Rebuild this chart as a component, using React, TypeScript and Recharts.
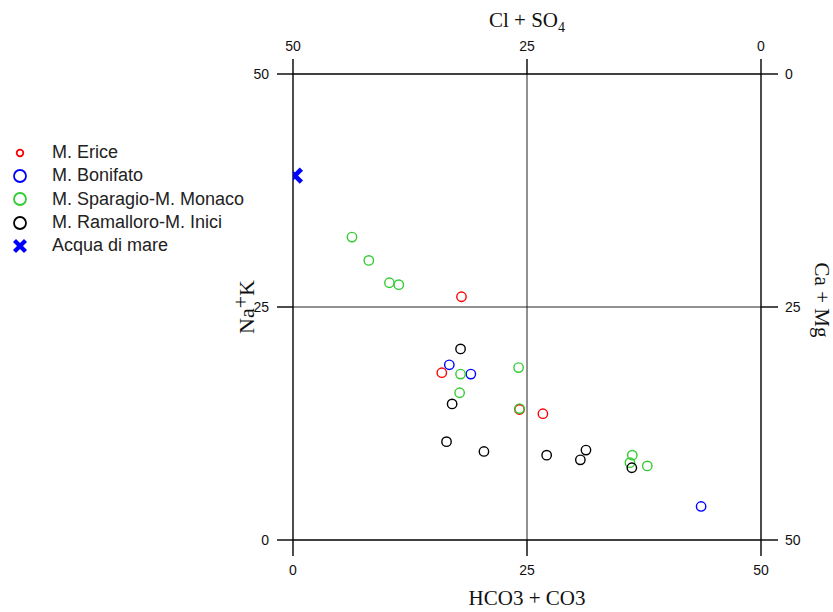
import React from "react";
import { ScatterChart, Scatter, XAxis, YAxis, ReferenceLine, Label } from "recharts";

// ---- data (meq % values) ----
const ericeX = [18.0, 15.9, 24.2, 26.7];
const ericeY = [26.1, 17.95, 14.0, 13.55];

const bonifatoX = [16.7, 19.0, 43.6];
const bonifatoY = [18.8, 17.8, 3.6];

const sparagioX = [6.3, 8.1, 10.3, 11.3, 24.1, 17.9, 17.8, 24.2, 36.25, 36.0, 37.85];
const sparagioY = [32.5, 30.0, 27.6, 27.4, 18.5, 17.8, 15.8, 14.1, 9.1, 8.3, 7.95];

const ramalloroX = [17.9, 17.0, 16.4, 20.4, 27.1, 31.3, 30.7, 36.2];
const ramalloroY = [20.5, 14.6, 10.55, 9.5, 9.1, 9.65, 8.6, 7.75];

const mareX = [0.2];
const mareY = [39.1];

const axisTicks = [0, 25, 50];
const axisMax = 50;

const seriesNames = [
  "M. Erice",
  "M. Bonifato",
  "M. Sparagio-M. Monaco",
  "M. Ramalloro-M. Inici",
  "Acqua di mare",
];
const seriesColors = ["#ff0000", "#0000ff", "#33cc33", "#000000", "#0000ff"];

const zip = (xs: number[], ys: number[]) => xs.map((x, i) => ({ x, y: ys[i] }));

const SANS = '"Liberation Sans", Arial, sans-serif';
const SERIF = '"Liberation Serif", "Times New Roman", serif';

const ringShape = (color: string) => (p: any) => (
  <circle cx={p.cx} cy={p.cy} r={4.7} fill="none" stroke={color} strokeWidth={1.4} />
);

const crossShape = (color: string) => (p: any) => (
  <g>
    <line x1={p.cx - 6.5} y1={p.cy - 6.5} x2={p.cx + 6.5} y2={p.cy + 6.5} stroke={color} strokeWidth={4.6} />
    <line x1={p.cx - 6.5} y1={p.cy + 6.5} x2={p.cx + 6.5} y2={p.cy - 6.5} stroke={color} strokeWidth={4.6} />
  </g>
);

const LegendMarker = ({ idx }: { idx: number }) => {
  const c = seriesColors[idx];
  if (idx === 4) {
    return (
      <svg width={18} height={18} style={{ display: "block" }}>
        <line x1={3.5} y1={3.5} x2={14.5} y2={14.5} stroke={c} strokeWidth={4.2} />
        <line x1={3.5} y1={14.5} x2={14.5} y2={3.5} stroke={c} strokeWidth={4.2} />
      </svg>
    );
  }
  const r = idx === 0 ? 3.3 : 6;
  return (
    <svg width={18} height={18} style={{ display: "block" }}>
      <circle cx={9} cy={9} r={r} fill="none" stroke={c} strokeWidth={1.8} />
    </svg>
  );
};

const tickStyle = { fontFamily: SANS, fontSize: 14, fill: "#111" };

export default function App() {
  const frame = { stroke: "#000", strokeWidth: 1.4 };
  return (
    <div style={{ position: "absolute", left: 0, top: 0, width: 833, height: 612, background: "#fff" }}>
      <ScatterChart
        width={833}
        height={612}
        margin={{ top: 14, right: 12, bottom: 12, left: 233 }}
      >
        <XAxis
          xAxisId="b"
          type="number"
          dataKey="x"
          orientation="bottom"
          domain={[0, axisMax]}
          ticks={axisTicks}
          allowDataOverflow
          height={60}
          tickSize={16}
          tickMargin={9}
          axisLine={frame}
          tickLine={frame}
          tick={tickStyle}
        >
          <Label
            content={(props: any) => {
              const vb = props.viewBox || {};
              return (
                <text x={vb.x + vb.width / 2} y={605} textAnchor="middle" fontFamily={SERIF} fontSize={21} fill="#111">
                  HCO3 + CO3
                </text>
              );
            }}
          />
        </XAxis>
        <XAxis
          xAxisId="t"
          type="number"
          dataKey="x"
          orientation="top"
          domain={[0, axisMax]}
          ticks={axisTicks}
          allowDataOverflow
          height={60}
          tickSize={15}
          tickMargin={8}
          axisLine={frame}
          tickLine={frame}
          tick={tickStyle}
          tickFormatter={(v: number) => String(axisMax - v)}
        >
          <Label
            content={(props: any) => {
              const vb = props.viewBox || {};
              return (
                <text x={vb.x + vb.width / 2} y={27} textAnchor="middle" fontFamily={SERIF} fontSize={21} fill="#111">
                  <tspan>Cl + SO</tspan>
                  <tspan dy={5} fontSize={14}>4</tspan>
                </text>
              );
            }}
          />
        </XAxis>
        <YAxis
          yAxisId="l"
          type="number"
          dataKey="y"
          orientation="left"
          domain={[0, axisMax]}
          ticks={axisTicks}
          allowDataOverflow
          width={60}
          tickSize={16}
          tickMargin={8}
          axisLine={frame}
          tickLine={frame}
          tick={tickStyle}
        >
          <Label
            content={(props: any) => {
              const vb = props.viewBox || {};
              const cx = 254;
              const cy = vb.y + vb.height / 2;
              return (
                <text
                  x={cx}
                  y={cy}
                  transform={`rotate(-90, ${cx}, ${cy})`}
                  textAnchor="middle"
                  fontFamily={SERIF}
                  fontSize={22}
                  fill="#111"
                >
                  <tspan>Na</tspan>
                  <tspan dy={-6}>+</tspan>
                  <tspan dy={6}>K</tspan>
                </text>
              );
            }}
          />
        </YAxis>
        <YAxis
          yAxisId="r"
          type="number"
          dataKey="y"
          orientation="right"
          domain={[0, axisMax]}
          ticks={axisTicks}
          allowDataOverflow
          width={60}
          tickSize={17}
          tickMargin={7}
          axisLine={frame}
          tickLine={frame}
          tick={tickStyle}
          tickFormatter={(v: number) => String(axisMax - v)}
        >
          <Label
            content={() => {
              const cx = 815;
              const cy = 300;
              return (
                <text
                  x={cx}
                  y={cy}
                  transform={`rotate(90, ${cx}, ${cy})`}
                  textAnchor="middle"
                  fontFamily={SERIF}
                  fontSize={21}
                  fill="#111"
                >
                  Ca + Mg
                </text>
              );
            }}
          />
        </YAxis>

        <ReferenceLine xAxisId="b" yAxisId="l" x={25} stroke="#222" strokeWidth={1} />
        <ReferenceLine xAxisId="b" yAxisId="l" y={25} stroke="#222" strokeWidth={1} />

        <Scatter
          name={seriesNames[0]}
          xAxisId="b"
          yAxisId="l"
          data={zip(ericeX, ericeY)}
          shape={ringShape(seriesColors[0])}
          isAnimationActive={false}
        />
        <Scatter
          name={seriesNames[1]}
          xAxisId="b"
          yAxisId="l"
          data={zip(bonifatoX, bonifatoY)}
          shape={ringShape(seriesColors[1])}
          isAnimationActive={false}
        />
        <Scatter
          name={seriesNames[2]}
          xAxisId="b"
          yAxisId="l"
          data={zip(sparagioX, sparagioY)}
          shape={ringShape(seriesColors[2])}
          isAnimationActive={false}
        />
        <Scatter
          name={seriesNames[3]}
          xAxisId="b"
          yAxisId="l"
          data={zip(ramalloroX, ramalloroY)}
          shape={ringShape(seriesColors[3])}
          isAnimationActive={false}
        />
        <Scatter
          name={seriesNames[4]}
          xAxisId="b"
          yAxisId="l"
          data={zip(mareX, mareY)}
          shape={crossShape(seriesColors[4])}
          isAnimationActive={false}
        />
      </ScatterChart>

      <div
        style={{
          position: "absolute",
          left: 11,
          top: 141,
          fontFamily: SANS,
          fontSize: 18,
          color: "#222",
        }}
      >
        {seriesNames.map((n, i) => (
          <div key={n} style={{ display: "flex", alignItems: "center", height: 23.3 }}>
            <div style={{ width: 41 }}>
              <LegendMarker idx={i} />
            </div>
            <span>{n}</span>
          </div>
        ))}
      </div>
    </div>
  );
}
